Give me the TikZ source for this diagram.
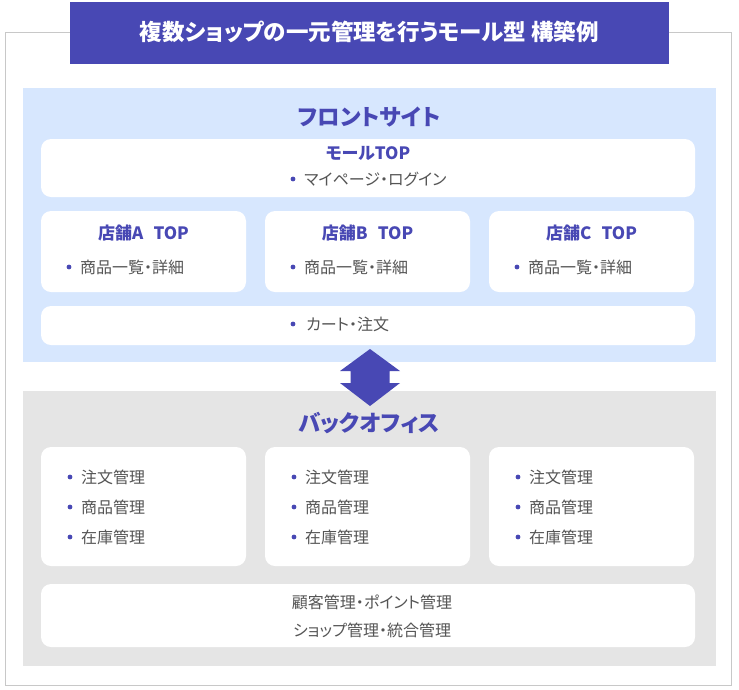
\documentclass[tikz,border=0pt]{standalone}
\usepackage{fontspec}
\setmainfont{Noto Sans CJK JP}[RawFeature=+palt]
\usetikzlibrary{positioning}

\definecolor{mallblue}{HTML}{4848B4}
\definecolor{frontbg}{HTML}{D7E7FE}
\definecolor{backbg}{HTML}{E5E5E5}
\definecolor{textgray}{HTML}{555555}
\definecolor{framegray}{HTML}{C8C8C8}

\tikzset{
  area/.style={inner sep=0pt, outer sep=0pt, anchor=north west},
  panel/.style={fill=white, rounded corners=10pt, inner sep=0pt, outer sep=0pt, anchor=north west},
  head/.style={font=\bfseries\fontsize{22.5}{26}\selectfont, text=mallblue, inner sep=0pt},
  sub/.style={font=\bfseries\fontsize{17}{20}\selectfont, text=mallblue, inner sep=0pt},
  item/.style={font=\fontsize{16}{19}\selectfont, text=textgray, inner sep=0pt, anchor=west},
  plain/.style={font=\fontsize{16}{19}\selectfont, text=textgray, inner sep=0pt},
  dot/.style={fill=mallblue}
}

\begin{document}
\begin{tikzpicture}[x=1pt,y=-1pt]
\useasboundingbox (0,0) rectangle (739,689);
% frame and title bar
\node[area, draw=framegray, line width=1pt, fill=white, minimum width=726pt, minimum height=653pt] (frame) at (5,32) {};
\node[area, fill=mallblue, minimum width=599pt, minimum height=62pt] (titlebar) at (70,2) {};
\node[font=\bfseries\fontsize{22.5}{26}\selectfont, text=white, inner sep=0pt] (title) at ([yshift=1pt]titlebar.center) {複数ショップの一元管理を行うモール型 構築例};

% front site
\node[area, fill=frontbg, minimum width=693pt, minimum height=274pt] (front) at (23,88) {};
\node[head] (fronthead) at (369,117) {フロントサイト};
\node[panel, minimum width=654pt, minimum height=58pt] (malltop) at (41,139) {};
\node[sub] (malltop-head) at ([yshift=-14pt]malltop.north) {モールTOP};
\node[item] (malltop-item) at (304,179) {マイページ・ログイン};
\fill[dot] ([xshift=-11pt]malltop-item.west) circle (2.4pt);
\foreach \s/\x in {A/41,B/265,C/489} {
  \node[panel, minimum width=205pt, minimum height=81pt] (store\s) at (\x,211) {};
  \node[sub] (store\s-head) at ([yshift=-22pt]store\s.north) {店舗\s\hspace{0.6em}TOP};
  \node[item] (store\s-item) at ([xshift=39pt,yshift=-56pt]store\s.north west) {商品一覧・詳細};
  \fill[dot] ([xshift=-11pt]store\s-item.west) circle (2.4pt);
}
\node[panel, minimum width=654pt, minimum height=39pt] (cart) at (41,306) {};
\node[item] (cart-item) at (306,324) {カート・注文};
\fill[dot] ([xshift=-13pt]cart-item.west) circle (2.4pt);

% back office
\node[area, fill=backbg, minimum width=693pt, minimum height=275pt] (back) at (23,391) {};
\node[head] (backhead) at (369,423) {バックオフィス};
\foreach \s/\x in {A/41,B/265,C/489} {
  \node[panel, minimum width=205pt, minimum height=119pt] (admin\s) at (\x,447) {};
  \node[item] (order\s) at ([xshift=40pt,yshift=-30pt]admin\s.north west) {注文管理};
  \node[item] (goods\s) at ([xshift=40pt,yshift=-60pt]admin\s.north west) {商品管理};
  \node[item] (stock\s) at ([xshift=40pt,yshift=-90pt]admin\s.north west) {在庫管理};
  \foreach \r in {order\s,goods\s,stock\s}
    \fill[dot] ([xshift=-11pt]\r.west) circle (2.4pt);
}
\node[panel, minimum width=654pt, minimum height=63pt] (common) at (41,584) {};
\node[plain] (common-a) at (372,602) {顧客管理・ポイント管理};
\node[plain] (common-b) at (372,630) {ショップ管理・統合管理};

% link between front and back
\coordinate (link) at (370,377.5);
\fill[mallblue, shift={(link)}] (0,-28.5) -- (30,-6.5) -- (19.5,-6.5) -- (19.5,5.5) -- (30,5.5) -- (0,28.5)
  -- (-30,5.5) -- (-19.5,5.5) -- (-19.5,-6.5) -- (-30,-6.5) -- cycle;
\end{tikzpicture}
\end{document}
